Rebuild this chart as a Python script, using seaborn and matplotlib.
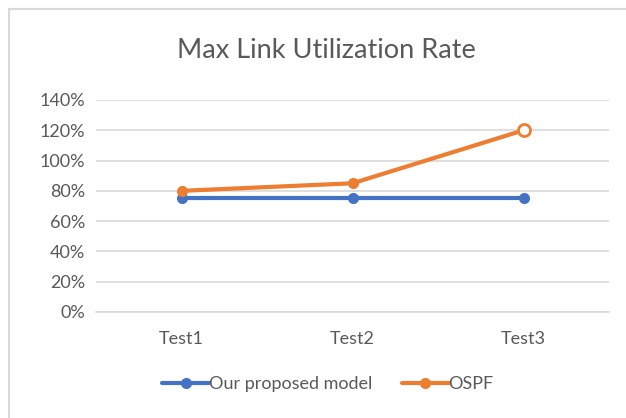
import matplotlib
matplotlib.use("Agg")
import matplotlib.pyplot as plt
from matplotlib.lines import Line2D
from matplotlib.patches import Rectangle
from matplotlib.ticker import PercentFormatter
import seaborn as sns
import pandas as pd

# Data
tests = ["Test1", "Test2", "Test3"]
proposed = [0.75, 0.75, 0.75]
ospf = [0.80, 0.85, 1.20]
series_names = ["Our proposed model", "OSPF"]
colors = ["#4472C4", "#ED7D31"]

df = pd.DataFrame({
    "test": tests * 2,
    "rate": proposed + ospf,
    "series": [series_names[0]] * len(tests) + [series_names[1]] * len(tests),
})

sns.set_theme(style="white")
plt.rcParams["font.family"] = ["Lato", "DejaVu Sans"]
text_color = "#595959"
grid_color = "#D9D9D9"

fig = plt.figure(figsize=(6.26, 4.18), dpi=100)
ax = fig.add_axes([96 / 626, 1 - 312 / 418, (609 - 96) / 626, (312 - 100) / 418])

sns.lineplot(data=df, x="test", y="rate", hue="series", palette=colors,
             marker="o", markersize=8, markeredgewidth=0, linewidth=3,
             legend=False, ax=ax, zorder=3)

# last OSPF point shown as an open marker
last = df[df["series"] == series_names[1]].iloc[[-1]]
sns.scatterplot(data=last, x="test", y="rate", s=75, color="white",
                edgecolor=colors[1], linewidth=2, ax=ax, zorder=4, legend=False)

ax.set_xlim(-0.5, 2.5)
ax.set_ylim(0, 1.4)
ax.set_yticks([i * 0.2 for i in range(8)])
ax.yaxis.set_major_formatter(PercentFormatter(1.0, decimals=0))
ax.grid(axis="y", color=grid_color, linewidth=1.2)
ax.set_axisbelow(True)
for side in ["left", "right", "top"]:
    ax.spines[side].set_visible(False)
ax.spines["bottom"].set_color(grid_color)
ax.spines["bottom"].set_linewidth(1.2)
ax.tick_params(axis="both", length=0, labelsize=13, labelcolor=text_color)
ax.tick_params(axis="x", pad=14)
ax.tick_params(axis="y", pad=8)
ax.set_xlabel("")
ax.set_ylabel("")

fig.text(326 / 626, 1 - 51 / 418, "Max Link Utilization Rate", ha="center", va="center",
         fontsize=19.5, color=text_color)

handles = [Line2D([0], [0], color=c, linewidth=3, marker="o", markersize=8,
                  markeredgewidth=0) for c in colors]
fig.legend(handles, series_names, loc="center", bbox_to_anchor=(328 / 626, 1 - 384 / 418),
           ncol=2, frameon=False, fontsize=13, labelcolor=text_color,
           handlelength=2.6, handletextpad=0.0, columnspacing=1.6)

# chart area border
fig.patches.append(Rectangle((9 / 626, -0.1), 1.1, 1 - 8.5 / 418 + 0.1,
                             transform=fig.transFigure, fill=False,
                             edgecolor=grid_color, linewidth=1.5))

fig.savefig("out.png", dpi=100)
